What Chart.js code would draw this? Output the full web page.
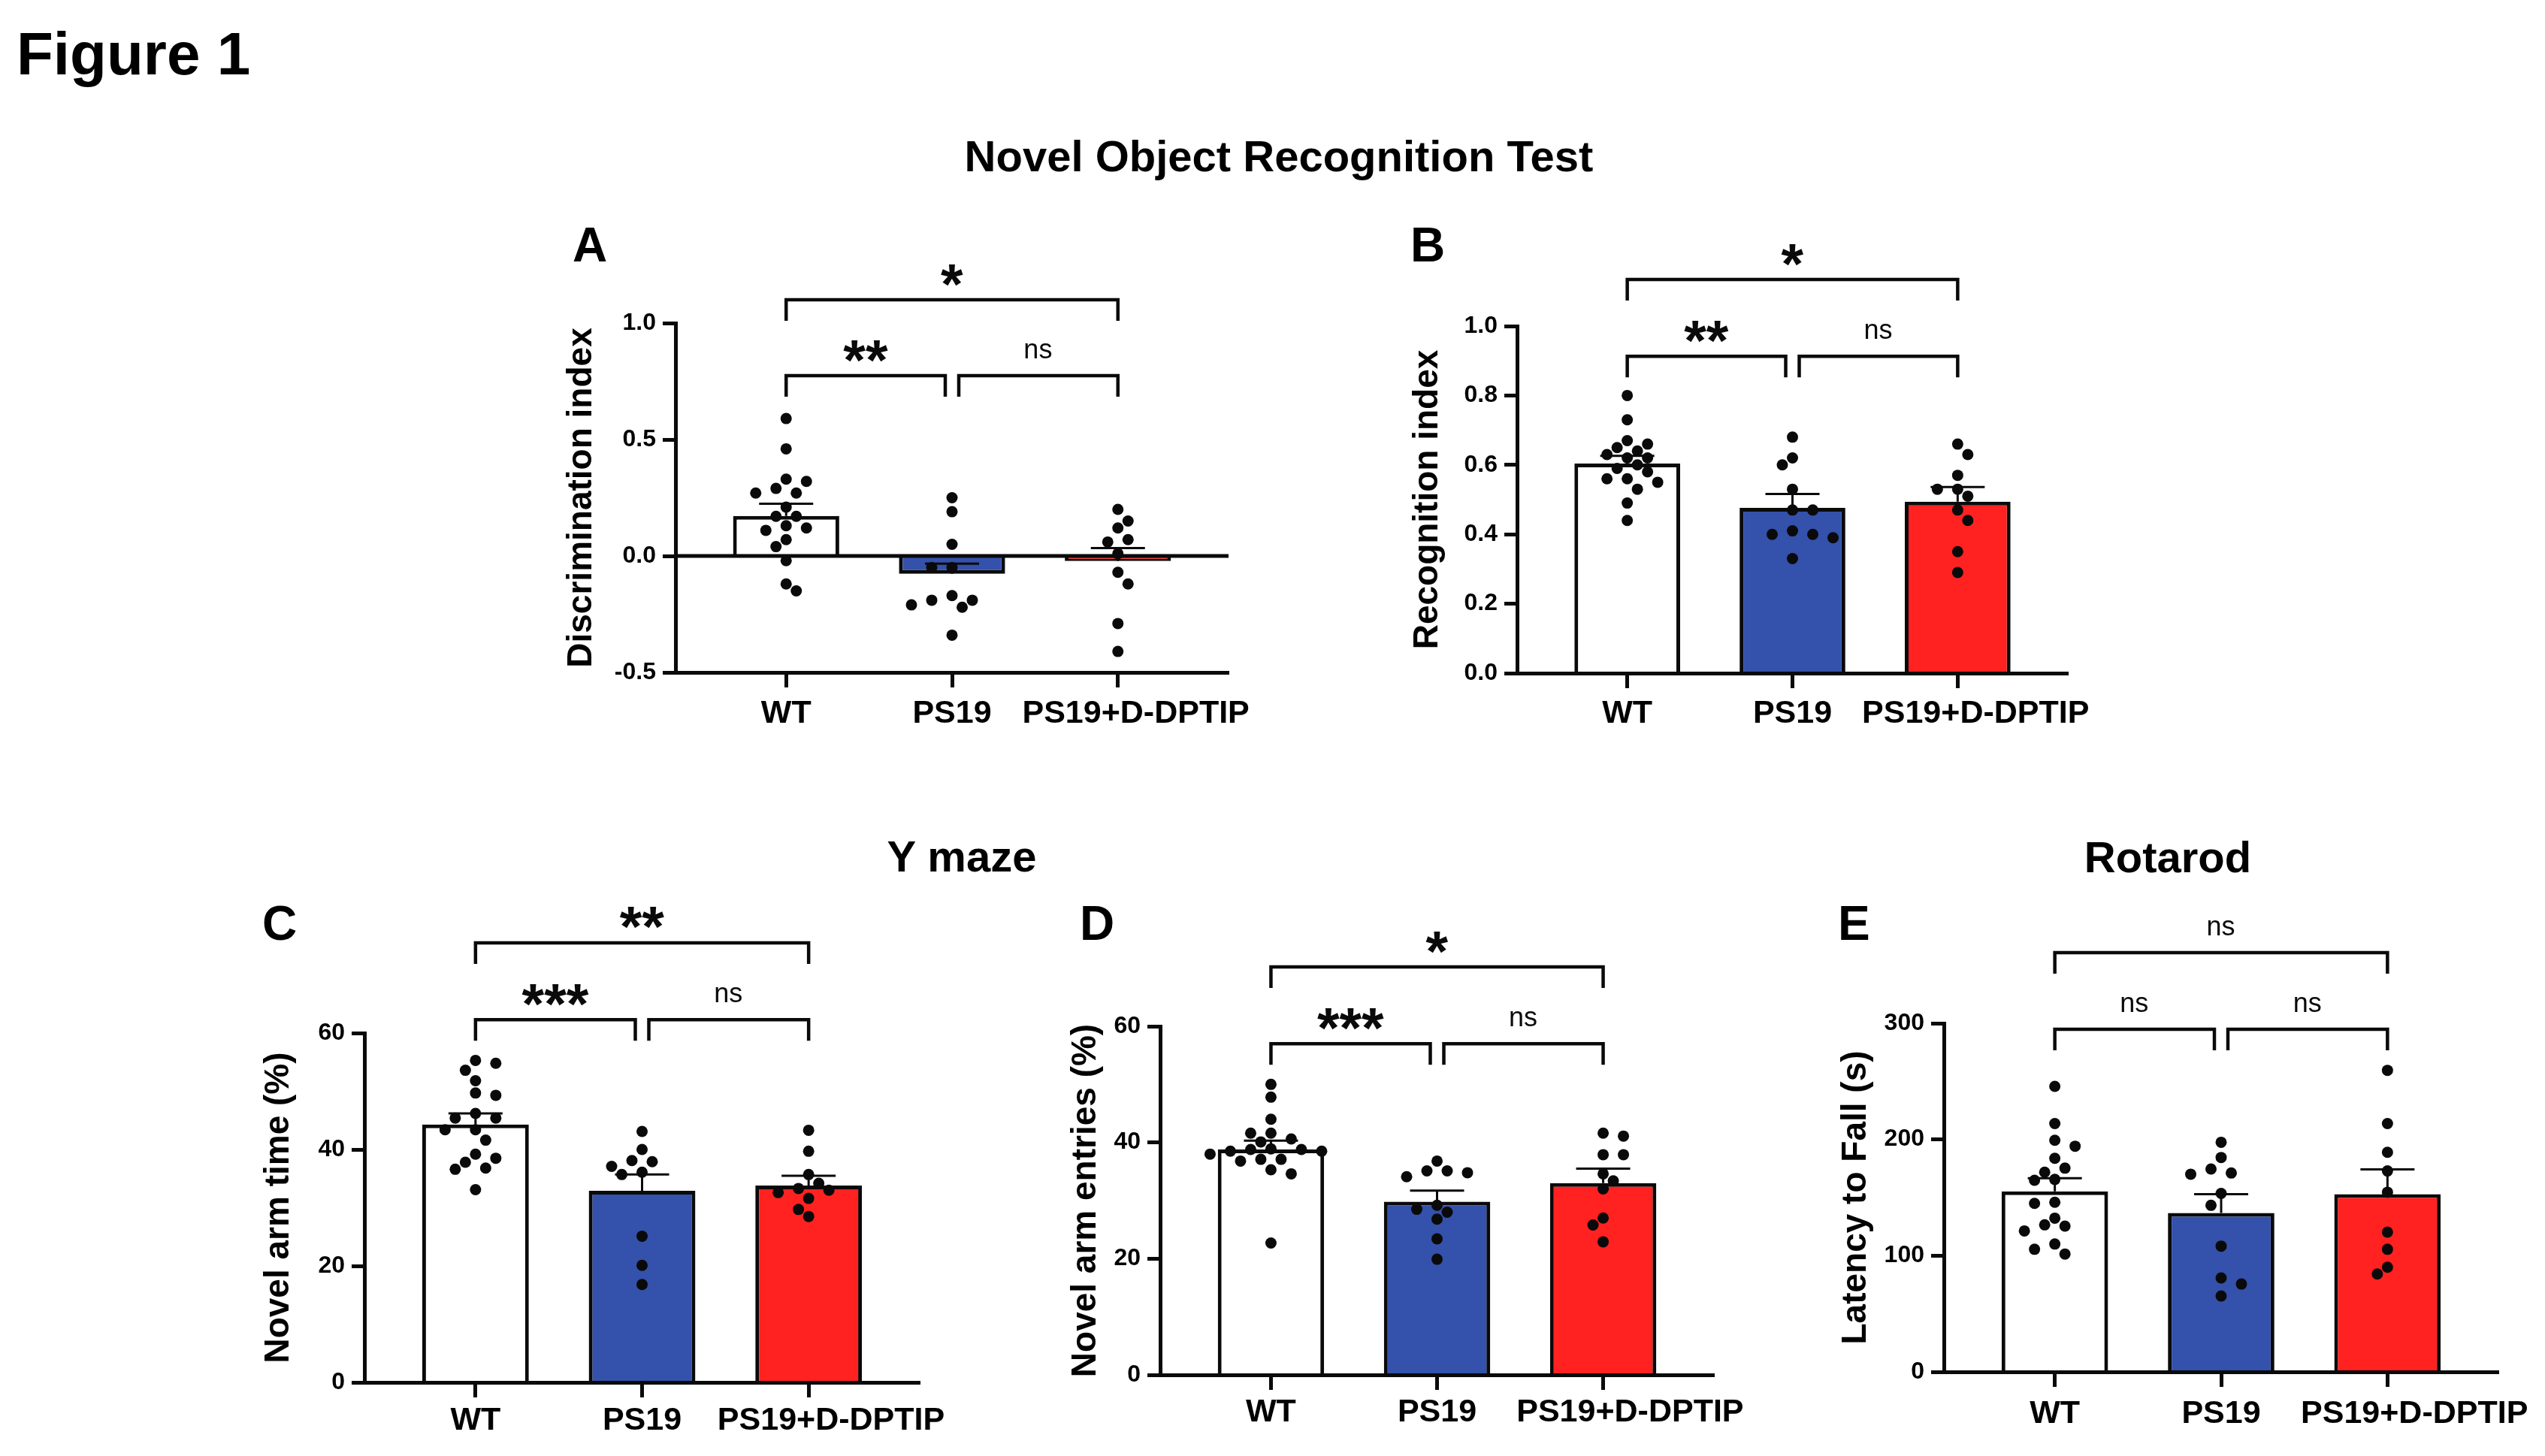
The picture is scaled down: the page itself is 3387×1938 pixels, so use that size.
<!DOCTYPE html>
<html><head><meta charset="utf-8">
<script src="https://cdn.jsdelivr.net/npm/chart.js@4.4.1/dist/chart.umd.min.js"></script>
<style>
html,body{margin:0;padding:0;background:#fff;}
#fig{position:relative;width:3387px;height:1938px;overflow:hidden;background:#fff;font-family:'Liberation Sans',Arial,sans-serif;}
.t{position:absolute;font-weight:bold;line-height:1;white-space:nowrap;color:#000;z-index:2}
canvas{position:absolute;z-index:1}
</style></head><body>
<div id="fig">
<div class="t" style="left:22px;top:32px;font-size:80px">Figure 1</div>
<div class="t" style="left:1102px;width:1200px;text-align:center;top:179px;font-size:58px">Novel Object Recognition Test</div>
<div class="t" style="left:680px;width:1200px;text-align:center;top:1111px;font-size:58px">Y maze</div>
<div class="t" style="left:2285px;width:1200px;text-align:center;top:1112px;font-size:58px">Rotarod</div>
<div class="t" style="left:762px;top:294px;font-size:64px">A</div>
<div class="t" style="left:1877px;top:294px;font-size:64px">B</div>
<div class="t" style="left:349px;top:1197px;font-size:64px">C</div>
<div class="t" style="left:1437px;top:1197px;font-size:64px">D</div>
<div class="t" style="left:2446px;top:1197px;font-size:64px">E</div>
</div>
<script>
// ---------------- DATA ----------------
const categories = ['WT', 'PS19', 'PS19+D-DPTIP'];

// A: Discrimination index
const discWT   = [0.59,0.46,0.32,0.33,0.29,0.27,0.27,0.21,0.17,0.17,0.13,0.11,0.12,0.07,0.04,-0.02,-0.12,-0.15];
const discPS19 = [0.25,0.19,0.05,-0.05,-0.05,-0.17,-0.19,-0.19,-0.21,-0.22,-0.34];
const discPSD  = [0.20,0.15,0.12,0.07,0.06,0.01,-0.07,-0.12,-0.29,-0.41];
const discMean = [0.172, -0.077, -0.022];
const discSem  = [0.052, 0.044, 0.056];
const discSig  = ['**', 'ns', '*'];

// B: Recognition index
const recWT   = [0.80,0.73,0.66,0.67,0.64,0.65,0.63,0.62,0.62,0.60,0.58,0.59,0.56,0.56,0.55,0.53,0.49,0.44];
const recPS19 = [0.68,0.62,0.60,0.53,0.47,0.47,0.41,0.40,0.40,0.39,0.33];
const recPSD  = [0.66,0.63,0.57,0.53,0.53,0.51,0.47,0.44,0.35,0.29];
const recMean = [0.604, 0.476, 0.494];
const recSem  = [0.022, 0.040, 0.042];
const recSig  = ['**', 'ns', '*'];

// C: Novel arm time (%)
const armTimeWT   = [55.3,54.8,53.6,51.8,49.7,49.3,46.2,45.4,45.4,43.4,43.4,41.6,37.8,39.2,38.5,36.6,36.8,33.1];
const armTimePS19 = [43.1,40.0,37.9,38.1,37.1,36.1,35.7,25.1,20.1,16.8];
const armTimePSD  = [43.3,39.7,35.7,34.2,32.6,33.0,33.3,31.6,29.7,28.5];
const armTimeMean = [44.3, 32.9, 33.8];
const armTimeSem  = [1.9, 2.8, 1.7];
const armTimeSig  = ['***', 'ns', '**'];

// D: Novel arm entries (%)
const entriesWT   = [50.0,47.8,44.0,41.6,41.6,40.6,40.1,38.5,38.0,38.9,38.8,38.8,38.5,37.1,37.1,36.8,35.3,34.6,22.7];
const entriesPS19 = [36.8,35.1,34.8,35.1,34.1,28.0,28.5,29.2,26.8,23.4,19.9];
const entriesPSD  = [41.1,41.6,37.9,37.9,33.4,34.6,32.0,27.0,25.8,22.9];
const entriesMean = [38.8, 29.8, 33.0];
const entriesSem  = [1.5, 1.9, 2.5];
const entriesSig  = ['***', 'ns', '*'];

// E: Latency to fall (s)
const latWT   = [245.7,213.7,199.3,194.2,183.8,175.3,171.8,164.9,165.6,145.0,146.0,126.5,125.4,132.3,121.3,110.0,101.4,105.5];
const latPS19 = [197.6,184.5,174.6,171.1,170.1,153.6,143.3,108.2,80.8,75.6,65.3];
const latPSD  = [259.5,213.7,189.0,172.9,154.6,120.3,105.5,90.0,84.2];
const latMean = [155.3, 136.8, 152.9];
const latSem  = [11.4, 16.1, 21.3];
const latSig  = ['ns', 'ns', 'ns'];

// ---------------- STYLE / LAYOUT ----------------
const FONT = "'Liberation Sans', Arial, sans-serif";
Chart.defaults.font.family = FONT;
Chart.defaults.color = '#000';
const barColors = ['#FFFFFF', '#3451AB', '#FF2220'];
const INK = '#0a0a0a';
const fig = document.getElementById('fig');
const PADR = 100;

function swarm(values, cat, xs, ys) {
  const step = 13.5, D = 16;
  const unit = xs.getPixelForValue(1) - xs.getPixelForValue(0);
  const sorted = values.slice().sort((a, b) => b - a);
  const placed = [], out = [];
  sorted.forEach((v, n) => {
    const py = ys.getPixelForValue(v);
    let best = 0;
    for (let k = 0; k < 20; k++) {
      let c = k === 0 ? [0] : [-k * step, k * step];
      if (n % 2) c = c.reverse();
      const ok = c.find(dx => placed.every(p => Math.hypot(p.dx - dx, p.py - py) >= D));
      if (ok !== undefined) { best = ok; break; }
    }
    placed.push({dx: best, py});
    out.push({x: cat + best / unit, y: v});
  });
  return out;
}

function makePanel(P, groups, means, sems, sig) {
  const cv = document.createElement('canvas');
  const left = P.titleX - 23, top = P.top - 240;
  const width = P.right + PADR - left, height = P.bottom + 120 - top;
  cv.width = width; cv.height = height;
  cv.style.left = left + 'px'; cv.style.top = top + 'px';
  cv.style.width = width + 'px'; cv.style.height = height + 'px';
  fig.appendChild(cv);
  const yW = P.axisX - left;

  const annot = {
    id: 'annot',
    afterDatasetDraw(chart, args) {
      if (args.index !== 1 || P.yMin >= 0) return;
      const {ctx, chartArea, scales: {y}} = chart;
      const y0 = y.getPixelForValue(0);
      ctx.save(); ctx.strokeStyle = INK; ctx.lineWidth = 5;
      ctx.beginPath(); ctx.moveTo(chartArea.left, y0); ctx.lineTo(chartArea.right, y0); ctx.stroke();
      ctx.restore();
    },
    afterDatasetsDraw(chart) {
      const {ctx, scales: {x, y}} = chart;
      ctx.save();
      ctx.strokeStyle = INK; ctx.fillStyle = INK;
      // error bars (mean + SEM)
      ctx.lineWidth = 3;
      means.forEach((m, i) => {
        const cx = x.getPixelForValue(i), ym = y.getPixelForValue(m), ye = y.getPixelForValue(m + sems[i]);
        ctx.beginPath(); ctx.moveTo(cx, ym); ctx.lineTo(cx, ye);
        ctx.moveTo(cx - 36, ye); ctx.lineTo(cx + 36, ye); ctx.stroke();
      });
      // brackets
      const c0 = x.getPixelForValue(0), c1 = x.getPixelForValue(1), c2 = x.getPixelForValue(2);
      const yl = y.getPixelForValue(P.bracketLow), yt = y.getPixelForValue(P.bracketTop);
      const br = [[c0, c1 - 9, yl, sig[0]], [c1 + 9, c2, yl, sig[1]], [c0, c2, yt, sig[2]]];
      ctx.lineWidth = 4.5; ctx.lineJoin = 'miter';
      br.forEach(([a, b, yy, txt]) => {
        ctx.beginPath(); ctx.moveTo(a, yy + 28); ctx.lineTo(a, yy); ctx.lineTo(b, yy); ctx.lineTo(b, yy + 28); ctx.stroke();
        const star = txt !== 'ns';
        ctx.font = star ? `bold 76px ${FONT}` : `36px ${FONT}`;
        ctx.textAlign = 'center'; ctx.textBaseline = 'alphabetic';
        const mt = ctx.measureText(txt);
        const tx = (a + b) / 2 - (mt.actualBoundingBoxRight - mt.actualBoundingBoxLeft) / 2;
        const ty = yy - 33 + (mt.actualBoundingBoxAscent - mt.actualBoundingBoxDescent) / 2;
        ctx.fillText(txt, tx, ty);
      });
      ctx.restore();
    }
  };

  const chart = new Chart(cv.getContext('2d'), {
    type: 'bar',
    data: {
      datasets: [
        {type: 'scatter', order: 0, data: groups.flatMap((g, i) => g.map(v => ({x: i, y: v}))),
         pointRadius: 7.5, pointBackgroundColor: INK, pointBorderWidth: 0, clip: false},
        {type: 'bar', order: 1, data: means.map((m, i) => ({x: i, y: m})),
         backgroundColor: barColors, borderColor: INK, borderWidth: 5, borderSkipped: 'start',
         barPercentage: 0.64, categoryPercentage: 1, clip: false}
      ]
    },
    options: {
      responsive: false, animation: false, devicePixelRatio: 1, events: [],
      layout: {padding: {left: 0, top: 240, right: PADR, bottom: 20}},
      plugins: {legend: {display: false}, tooltip: {enabled: false}},
      scales: {
        x: {
          type: 'linear', min: -0.667, max: 2.667, offset: false,
          afterBuildTicks: s => { s.ticks = [0, 1, 2].map(v => ({value: v})); },
          afterFit: s => { s.height = 100; },
          grid: {offset: false, drawOnChartArea: false, drawTicks: true, tickLength: 20, tickWidth: 5, tickColor: INK, color: INK},
          border: {display: true, color: INK, width: 5, z: 1},
          ticks: {padding: P.xPad, autoSkip: false, maxRotation: 0, minRotation: 0, color: '#000',
                  font: {size: 43, weight: 'bold', lineHeight: 1},
                  callback: v => (v === 2 ? ' '.repeat(P.shift) : '') + categories[v]}
        },
        y: {
          type: 'linear', min: P.yMin, max: P.yMax,
          afterFit: s => { s.width = yW; },
          ticks: {stepSize: P.yStep, padding: 9, color: '#000', font: {size: 32, weight: 'bold', lineHeight: 1},
                  callback: v => Number(v).toFixed(P.dec)},
          grid: {drawOnChartArea: false, drawTicks: true, tickLength: 17, tickWidth: 5, tickColor: INK, color: INK},
          border: {display: true, color: INK, width: 5, z: 1},
          title: {display: true, text: P.yTitle, color: '#000', font: {size: 46, weight: 'bold', lineHeight: 1}, padding: {top: 0, bottom: 0}}
        }
      }
    },
    plugins: [annot]
  });

  const xs = chart.scales.x, ys = chart.scales.y;
  chart.data.datasets[0].data = groups.flatMap((g, i) => swarm(g, i, xs, ys));
  chart.update('none');
  return chart;
}

makePanel({yTitle: 'Discrimination index', yMin: -0.5, yMax: 1.0, yStep: 0.5, dec: 1, shift: 4,
           axisX: 899, top: 430, bottom: 895, right: 1635, titleX: 774, xPad: 14, bracketLow: 0.774, bracketTop: 1.100},
          [discWT, discPS19, discPSD], discMean, discSem, discSig);
makePanel({yTitle: 'Recognition index', yMin: 0, yMax: 1.0, yStep: 0.2, dec: 1, shift: 4,
           axisX: 2019, top: 434, bottom: 896, right: 2752, titleX: 1900, xPad: 13, bracketLow: 0.913, bracketTop: 1.134},
          [recWT, recPS19, recPSD], recMean, recSem, recSig);
makePanel({yTitle: 'Novel arm time (%)', yMin: 0, yMax: 60, yStep: 20, dec: 0, shift: 5,
           axisX: 485, top: 1375, bottom: 1840, right: 1224, titleX: 371, xPad: 10, bracketLow: 62.3, bracketTop: 75.5},
          [armTimeWT, armTimePS19, armTimePSD], armTimeMean, armTimeSem, armTimeSig);
makePanel({yTitle: 'Novel arm entries (%)', yMin: 0, yMax: 60, yStep: 20, dec: 0, shift: 6,
           axisX: 1544, top: 1366, bottom: 1830, right: 2281, titleX: 1445, xPad: 9, bracketLow: 57.0, bracketTop: 70.2},
          [entriesWT, entriesPS19, entriesPSD], entriesMean, entriesSem, entriesSig);
makePanel({yTitle: 'Latency to Fall (s)', yMin: 0, yMax: 300, yStep: 100, dec: 0, shift: 6,
           axisX: 2587, top: 1362, bottom: 1826, right: 3325, titleX: 2470, xPad: 15, bracketLow: 294.8, bracketTop: 360.8},
          [latWT, latPS19, latPSD], latMean, latSem, latSig);
</script>
</body></html>
